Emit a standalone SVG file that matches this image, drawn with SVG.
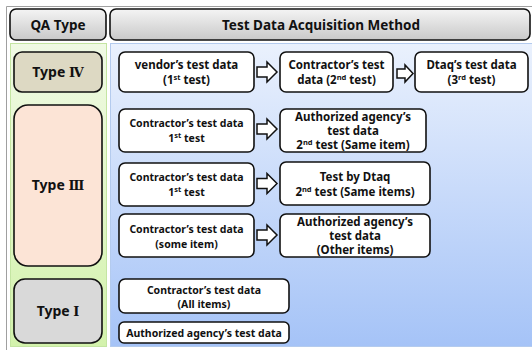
<svg xmlns="http://www.w3.org/2000/svg" width="532" height="350" viewBox="0 0 532 350">
<defs>
<linearGradient id="gHead" x1="0" y1="0" x2="0" y2="1"><stop offset="0" stop-color="#f4f4f4"/><stop offset="1" stop-color="#c9c9c9"/></linearGradient>
<linearGradient id="gGreen" x1="0" y1="0" x2="0" y2="1"><stop offset="0" stop-color="#f0fae4"/><stop offset="1" stop-color="#d3f2ac"/></linearGradient>
<linearGradient id="gBlue" x1="0" y1="0" x2="0" y2="1"><stop offset="0" stop-color="#eaf1fd"/><stop offset="1" stop-color="#a5c3f7"/></linearGradient>
</defs>
<style>
.t{font-family:"Noto Sans","Noto Sans CJK KR",sans-serif;font-weight:bold;fill:#111;text-anchor:middle}
.h{font-size:13.5px}
.ty{font-size:14px}
.rn{font-family:"DejaVu Serif","Liberation Serif","Noto Sans CJK KR",serif;font-size:13px}
.b1{font-size:11.5px}
.b2{font-size:10.5px}
.sup{font-size:7.5px}
.box{fill:#fff;stroke:#111;stroke-width:1.6}
.arr{fill:#fff;stroke:#111;stroke-width:1.5;stroke-linejoin:miter}
</style>
<rect width="532" height="350" fill="#fff"/>
<path d="M6.5 350 V6.5 H532" fill="none" stroke="#a0a0a0" stroke-width="1"/>
<g id="header">
<rect x="10" y="9" width="96" height="31" rx="6" fill="url(#gHead)" stroke="#111" stroke-width="1.6"/>
<text class="t h" x="58" y="30">QA Type</text>
<rect x="110" y="9" width="420" height="31" rx="6" fill="url(#gHead)" stroke="#111" stroke-width="1.6"/>
<text class="t h" x="321" y="30">Test Data Acquisition Method</text>
</g>
<rect x="10.5" y="43.5" width="96" height="303" fill="url(#gGreen)" stroke="#c4e5a2" stroke-width="1"/>
<rect x="110.5" y="43.5" width="422" height="303" fill="url(#gBlue)" stroke="#b4cbee" stroke-width="1"/>
<g id="type4">
<rect x="14" y="52" width="88" height="40" rx="8" fill="#ddd9c3" stroke="#111" stroke-width="1.6"/>
<text class="t ty" x="58" y="77">Type <tspan class="rn">Ⅳ</tspan></text>
</g>
<g id="type3">
<rect x="14" y="105" width="88" height="161" rx="14" fill="#fce4d6" stroke="#111" stroke-width="1.6"/>
<text class="t ty" x="58" y="190">Type <tspan class="rn">Ⅲ</tspan></text>
</g>
<g id="type1">
<rect x="14" y="279" width="88" height="64" rx="11" fill="#d9d9d9" stroke="#111" stroke-width="1.6"/>
<text class="t ty" x="58" y="316">Type <tspan class="rn">Ⅰ</tspan></text>
</g>
<g id="n1a">
<rect class="box" x="119" y="52" width="135" height="40" rx="6"/>
<text class="t b1" x="186.5" y="69">vendor’s test data</text>
<text class="t b1" x="186.5" y="84">(1<tspan class="sup" dy="-4">st</tspan><tspan dy="4"> test)</tspan></text>
</g>
<g id="n1b">
<rect class="box" x="280" y="52" width="113" height="40" rx="6"/>
<text class="t b1" x="336.5" y="69">Contractor’s test</text>
<text class="t b1" x="336.5" y="84">data (2<tspan class="sup" dy="-4">nd</tspan><tspan dy="4"> test)</tspan></text>
</g>
<g id="n1c">
<rect class="box" x="415" y="52" width="113" height="40" rx="6"/>
<text class="t b1" x="471.5" y="69">Dtaq’s test data</text>
<text class="t b1" x="471.5" y="84">(3<tspan class="sup" dy="-4">rd</tspan><tspan dy="4"> test)</tspan></text>
</g>
<g id="n2a">
<rect class="box" x="119" y="109" width="135" height="43" rx="6"/>
<text class="t b2" x="186.5" y="127">Contractor’s test data</text>
<text class="t b2" x="186.5" y="142">1<tspan class="sup" dy="-4">st</tspan><tspan dy="4"> test</tspan></text>
</g>
<g id="n2b">
<rect class="box" x="280" y="109" width="146" height="43" rx="6"/>
<text class="t b1" x="353" y="121">Authorized agency’s</text>
<text class="t b1" x="353" y="135">test data</text>
<text class="t b1" x="353" y="149">2<tspan class="sup" dy="-4">nd</tspan><tspan dy="4"> test (Same item)</tspan></text>
</g>
<g id="n3a">
<rect class="box" x="119" y="163" width="135" height="43" rx="6"/>
<text class="t b2" x="186.5" y="181">Contractor’s test data</text>
<text class="t b2" x="186.5" y="196">1<tspan class="sup" dy="-4">st</tspan><tspan dy="4"> test</tspan></text>
</g>
<g id="n3b">
<rect class="box" x="280" y="162" width="150" height="43" rx="6"/>
<text class="t b1" x="355" y="181">Test by Dtaq</text>
<text class="t b1" x="355" y="196">2<tspan class="sup" dy="-4">nd</tspan><tspan dy="4"> test (Same items)</tspan></text>
</g>
<g id="n4a">
<rect class="box" x="119" y="214" width="135" height="43" rx="6"/>
<text class="t b2" x="186.5" y="233">Contractor’s test data</text>
<text class="t b2" x="186.5" y="248">(some item)</text>
</g>
<g id="n4b">
<rect class="box" x="280" y="214" width="150" height="43" rx="6"/>
<text class="t b1" x="355" y="226">Authorized agency’s</text>
<text class="t b1" x="355" y="240">test data</text>
<text class="t b1" x="355" y="254">(Other items)</text>
</g>
<g id="n5a">
<rect class="box" x="119" y="279" width="170" height="34" rx="6"/>
<text class="t b2" x="204" y="294">Contractor’s test data</text>
<text class="t b2" x="204" y="308">(All items)</text>
</g>
<g id="n5b">
<rect class="box" x="119" y="322" width="170" height="21" rx="5"/>
<text class="t b2" x="204" y="336.5">Authorized agency’s test data</text>
</g>
<g id="connectors">
<path class="arr" d="M257 67 H267 V62 L277 72 L267 82 V77 H257 Z"/>
<path class="arr" d="M397 69 H405 V65 L413 73.5 L405 82 V78 H397 Z"/>
<path class="arr" d="M257 124 H267 V119 L277 129 L267 139 V134 H257 Z"/>
<path class="arr" d="M257 178.5 H267 V173.5 L277 183.5 L267 193.5 V188.5 H257 Z"/>
<path class="arr" d="M257 230 H267 V225 L277 235 L267 245 V240 H257 Z"/>
</g>
</svg>
